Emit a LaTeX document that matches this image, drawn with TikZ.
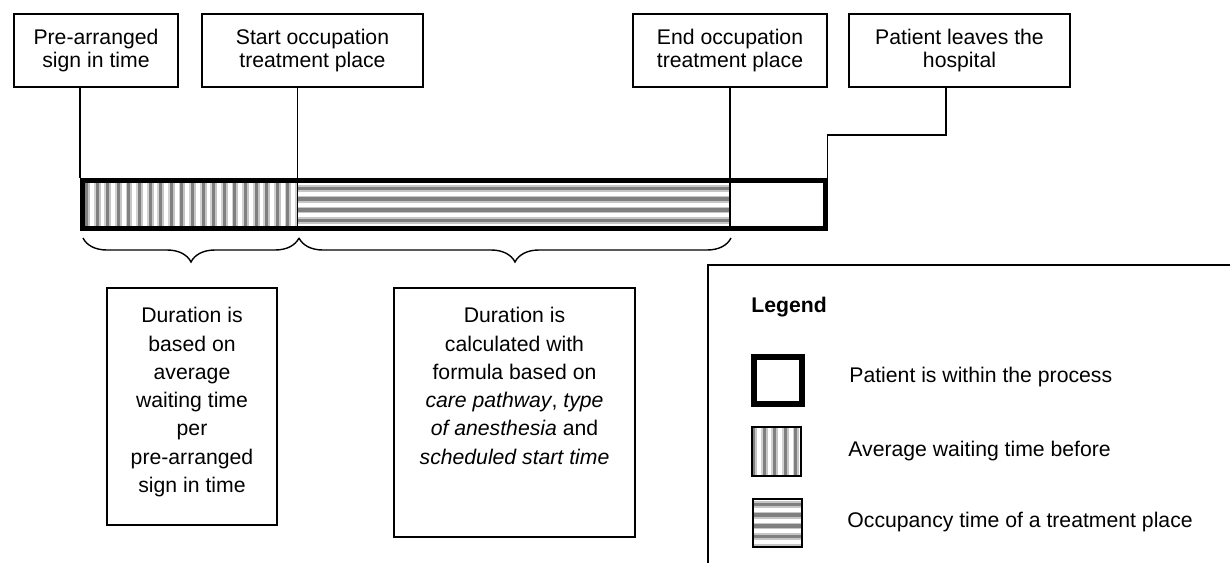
\documentclass[tikz,border=0pt]{standalone}
\usepackage{fontspec}
\setmainfont{Liberation Sans}
\usetikzlibrary{decorations.pathreplacing}

\tikzset{
  event/.style={draw, line width=0.7pt, minimum height=36.5pt, align=center, inner sep=0pt},
  note/.style={draw, line width=0.7pt, inner sep=0pt},
  notetext/.style={anchor=north, align=center, inner sep=0pt,
    font=\fontsize{10.6}{14.15}\selectfont},
  link/.style={line width=0.7pt},
  curly/.style={line width=0.7pt, decorate, decoration={brace, mirror, amplitude=12pt}},
  % gray stripes, drawn as a picture clipped to the node:
  % a dark band with a light edge on each side, the rest white
  vstripes/.style={path picture={
    \foreach \k in {0,...,20}{
      \fill[gray] ([xshift=\k*5.3pt]path picture bounding box.south west) rectangle ++(1.5pt,40pt);
      \fill[gray!45] ([xshift=\k*5.3pt+1.5pt]path picture bounding box.south west) rectangle ++(1pt,40pt);
      \fill[gray!35] ([xshift=\k*5.3pt+4.4pt]path picture bounding box.south west) rectangle ++(0.9pt,40pt);
    }
  }},
  hstripes/.style={path picture={
    \foreach \k in {0,...,4}{
      \fill[gray!45] ([yshift=-\k*5.375pt-1pt]path picture bounding box.north west) rectangle ++(230pt,-0.8pt);
      \fill[gray] ([yshift=-\k*5.375pt-1.8pt]path picture bounding box.north west) rectangle ++(230pt,-1.8pt);
      \fill[gray!45] ([yshift=-\k*5.375pt-3.6pt]path picture bounding box.north west) rectangle ++(230pt,-0.8pt);
    }
  }}
}

\begin{document}
\begin{tikzpicture}[x=0.5pt, y=-0.5pt, every node/.style={font=\fontsize{10.6}{11.7}\selectfont}]
\useasboundingbox (0,0) rectangle (1230,563);

% The moments in time, in boxes along the top
\node[event, minimum width=82pt] (pre) at (96,50.5) {Pre-arranged\\sign in time};
\node[event, minimum width=110.5pt] (start) at (312.5,50.5) {Start occupation\\treatment place};
\node[event, minimum width=97pt] (end) at (730,50.5) {End occupation\\treatment place};
\node[event, minimum width=110.5pt] (leaves) at (959.5,50.5) {Patient leaves the\\hospital};

% The stay itself: the two striped parts first,
% then the thick frame round the whole stay on top
\node[vstripes, inner sep=0pt, minimum width=106pt, minimum height=21.5pt] (wait) at (191,204.5) {};
\node[hstripes, inner sep=0pt, minimum width=216pt, minimum height=21.5pt] (occ) at (514,204.5) {};
\node[draw, line width=2.5pt, inner sep=0pt, minimum width=371.25pt, minimum height=24pt] (stay) at (453.75,204.5) {};

% Lines from the moments down to the bar
\draw[link] (pre.south -| stay.west) -- (stay.north west);
\draw[link] (start.south -| occ.west) -- (occ.south west);
\draw[link] (end.south) -- (end.south |- occ.south);
\coordinate (turn) at (946,135);
\draw[link] (leaves.south -| turn) -- (turn) -| (stay.north east);

% Braces under the two parts
\draw[curly] (83,238) -- (299,238);
\draw[curly] (299,238) -- (731,238);

% How each duration is found
\node[note, minimum width=85pt, minimum height=118.5pt] (waitnote) at (192,406.5) {};
\node[notetext] (waittext) at (waitnote.north |- 0,307) {Duration is\\based on\\average\\waiting time\\per\\pre-arranged\\sign in time};
\node[note, minimum width=120.5pt, minimum height=124.5pt] (occnote) at (514.5,412.5) {};
\node[notetext] (occtext) at (occnote.north |- 0,307) {Duration is\\calculated with\\formula based on\\\textit{care pathway}, \textit{type}\\\textit{of anesthesia} and\\\textit{scheduled start time}};

% Legend, its frame runs off the page
\draw[link] (708,563) |- (1230,265);
\node[anchor=west, inner sep=0pt, font=\fontsize{10.6}{11.7}\selectfont\bfseries] (legend) at (751,307) {Legend};
\node[draw, line width=3pt, inner sep=0pt, minimum width=24pt, minimum height=23.5pt] (keystay) at (778,380.5) {};
\node[draw, vstripes, line width=0.8pt, inner sep=0pt, minimum size=24.5pt] (keywait) at (776.5,451.5) {};
\node[draw, hstripes, line width=0.8pt, inner sep=0pt, minimum width=24.5pt, minimum height=24pt] (keyocc) at (777.5,523) {};
\node[anchor=west, inner sep=0pt] (staytext) at (849,377) {Patient is within the process};
\node[anchor=west, inner sep=0pt] (waitkeytext) at (848,451) {Average waiting time before};
\node[anchor=west, inner sep=0pt] (occkeytext) at (847,522) {Occupancy time of a treatment place};
\end{tikzpicture}
\end{document}
